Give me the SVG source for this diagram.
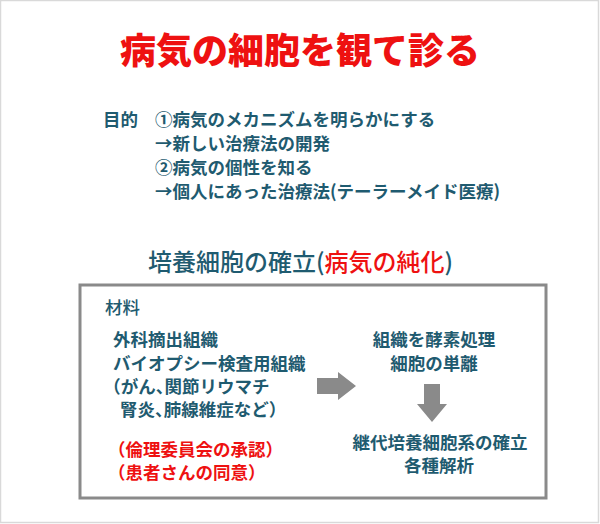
<svg xmlns="http://www.w3.org/2000/svg" width="600" height="524" viewBox="0 0 600 524">
<style>
text{font-family:"Noto Sans CJK JP","Noto Sans",sans-serif;}
.t{fill:#1f5b70;font-size:17.5px;font-weight:700;}
.r{fill:#ee1111;}
.c{text-anchor:middle;}
.h{font-feature-settings:"halt";}
.arrow{fill:#8a8a8a;}
</style>
<rect x="0.5" y="0.5" width="598" height="522" fill="#ffffff" stroke="#d9d9d9" stroke-width="1.5"/>
<g id="title">
<text x="300" y="64" class="c" style="font-size:36px;font-weight:900;fill:#ee1111">病気の細胞を観て診る</text>
</g>
<g id="purpose">
<text x="103" y="126" class="t">目的</text>
<text x="155" y="126" class="t">①病気のメカニズムを明らかにする</text>
<text x="155" y="150" class="t">→新しい治療法の開発</text>
<text x="155" y="174" class="t">②病気の個性を知る</text>
<text x="155" y="198" class="t">→個人にあった治療法(テーラーメイド医療)</text>
</g>
<g id="subtitle">
<text x="148" y="271" style="fill:#1f5b70;font-size:24px;font-weight:500">培養細胞の確立(<tspan class="r">病気の純化</tspan>)</text>
</g>
<g id="box">
<rect x="80" y="285" width="466" height="213" fill="none" stroke="#8a8a8a" stroke-width="3"/>
</g>
<g id="materials">
<text x="105" y="314" class="t" style="font-weight:500">材料</text>
<text x="113" y="346" class="t">外科摘出組織</text>
<text x="113" y="370" class="t">バイオプシー検査用組織</text>
<text x="112" y="393" class="t h">（がん、関節リウマチ</text>
<text x="120" y="416" class="t h">腎炎、肺線維症など）</text>
<text x="108" y="456" class="t r">（倫理委員会の承認）</text>
<text x="108" y="479" class="t r">（患者さんの同意）</text>
</g>
<g id="process">
<text x="434" y="346" class="t c">組織を酵素処理</text>
<text x="434" y="370" class="t c">細胞の単離</text>
</g>
<g id="result">
<text x="440" y="449" class="t c">継代培養細胞系の確立</text>
<text x="439" y="472" class="t c">各種解析</text>
</g>
<g id="connectors">
<polygon class="arrow" points="317,378 338,378 338,372 356,386 338,400 338,394 317,394"/>
<polygon class="arrow" points="424,384 440,384 440,404 447,404 432,422 417,404 424,404"/>
</g>
</svg>
